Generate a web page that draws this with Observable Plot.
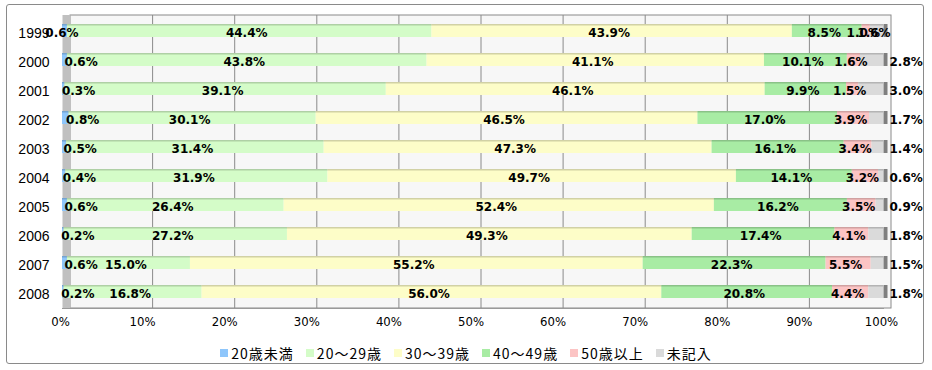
<!DOCTYPE html>
<html><head><meta charset="utf-8">
<script src="https://cdn.jsdelivr.net/npm/d3@7"></script>
<script src="https://cdn.jsdelivr.net/npm/@observablehq/plot@0.6"></script>
<style>
body{margin:0;background:#fff;}
#wrap{position:relative;width:932px;height:370px;overflow:hidden;}
#border{position:absolute;left:6px;top:4px;width:918px;height:360px;border:1px solid #8a8a8a;border-radius:3px;box-sizing:border-box;}
#chart{position:absolute;left:0;top:0;}
#legend{position:absolute;left:0;top:343px;width:932px;display:flex;justify-content:center;gap:12px;font:14px "Noto Sans CJK JP","Noto Sans",sans-serif;letter-spacing:1px;color:#000;}
#legend .it{display:flex;align-items:center;}
#legend .sw{display:inline-block;width:8px;height:8px;margin-right:3px;}
g[aria-label="y-axis tick label"]{font-size:14px;font-family:"Liberation Sans",Arial,sans-serif;}
g[aria-label="x-axis tick label"]{font-size:13px;font-family:"DejaVu Sans Condensed","DejaVu Sans",sans-serif;font-stretch:condensed;}
</style></head>
<body><div id="wrap"><div id="border"></div><div id="chart"></div><div id="legend"></div></div>
<script>
const years = ["1999","2000","2001","2002","2003","2004","2005","2006","2007","2008"];
const categories = ["20歳未満","20〜29歳","30〜39歳","40〜49歳","50歳以上","未記入"];
const colors = ["#8ec6fb","#d4fcc8","#fdfdc8","#a8eca4","#fcc4c4","#dadada"];
const under20 = [0.6,0.6,0.3,0.8,0.5,0.4,0.6,0.2,0.6,0.2];
const age20s  = [44.4,43.8,39.1,30.1,31.4,31.9,26.4,27.2,15.0,16.8];
const age30s  = [43.9,41.1,46.1,46.5,47.3,49.7,52.4,49.3,55.2,56.0];
const age40s  = [8.5,10.1,9.9,17.0,16.1,14.1,16.2,17.4,22.3,20.8];
const over50  = [1.0,1.6,1.5,3.9,3.4,3.2,3.5,4.1,5.5,4.4];
const unknown = [1.6,2.8,3.0,1.7,1.4,0.6,0.9,1.8,1.5,1.8];
const xTicks = [0,10,20,30,40,50,60,70,80,90,100];
// years whose edge labels sit centred inside the bar (others sit beside it)
const centredEdgeYears = ["1999"];

const series = [under20, age20s, age30s, age40s, over50, unknown];
const segs = [];
years.forEach((yr, i) => {
  const vals = series.map(s => s[i]);
  const total = d3.sum(vals);
  let cum = 0;
  vals.forEach((v, k) => {
    const x1 = cum / total * 100; cum += v;
    const x2 = cum / total * 100;
    let mode = "mid";
    if (!centredEdgeYears.includes(yr)) {
      if (k === 0) mode = "first";
      if (k === 5) mode = "last";
    }
    segs.push({year: yr, cat: categories[k], k, value: v, x1, x2, mode,
      lx: mode === "first" ? x2 : mode === "last" ? 100 : (x1 + x2) / 2,
      label: v.toFixed(1) + "%"});
  });
});
const dark = colors.map(c => d3.color(c).darker(0.8).formatHex());
const labelStyle = {x: "lx", y: "year", text: "label", dy: 2,
  fontWeight: "bold", fontSize: 12, fontFamily: "DejaVu Sans, sans-serif", fill: "#000"};

const chart = Plot.plot({
  width: 932, height: 335,
  marginLeft: 62, marginRight: 49, marginTop: 15, marginBottom: 27,
  x: {domain: [0, 100]},
  y: {domain: years, paddingInner: 0.54, paddingOuter: 0.28, label: null},
  style: {background: "transparent", color: "#000"},
  marks: [
    Plot.rect([0], {x1: () => 0, x2: () => 100, dx: 8, fill: "#f7f7f7", stroke: "#8a8a8a"}),
    Plot.ruleX(xTicks.slice(1, -1), {x: d => d, dx: 8, stroke: "#8a8a8a"}),
    Plot.ruleX([0], {x: d => d, dx: 4, stroke: "#c0c0c0", strokeWidth: 8}),
    Plot.frame({anchor: "bottom", stroke: "#9a9a9a"}),
    Plot.barX(segs, {x1: "x1", x2: "x2", y: "year", fill: d => colors[d.k]}),
    Plot.barX(segs, {x1: "x1", x2: "x2", y: "year", fill: d => dark[d.k], insetBottom: 11.5, fillOpacity: 0.7}),
    Plot.tickX(years, {x: () => 100, y: d => d, stroke: "#7f7f7f", strokeWidth: 4, dx: 2}),
    Plot.text(segs.filter(d => d.mode === "mid"), {...labelStyle, textAnchor: "middle", dx: -3}),
    Plot.text(segs.filter(d => d.mode === "first"), {...labelStyle, textAnchor: "start", dx: -3}),
    Plot.text(segs.filter(d => d.mode === "last"), {...labelStyle, textAnchor: "start", dx: 6}),
    Plot.axisY({tickSize: 0, tickPadding: 13, dy: 3, fontSize: 14, label: null}),
    Plot.axisX({ticks: xTicks, tickFormat: d => d + "%", tickSize: 0, tickPadding: 8, dx: -2, fontSize: 13, label: null})
  ]
});
document.getElementById("chart").appendChild(chart);

const lg = document.getElementById("legend");
categories.forEach((c, k) => {
  const it = document.createElement("div"); it.className = "it";
  const sw = document.createElement("span"); sw.className = "sw"; sw.style.background = colors[k];
  it.appendChild(sw); it.appendChild(document.createTextNode(c)); lg.appendChild(it);
});
</script></body></html>
